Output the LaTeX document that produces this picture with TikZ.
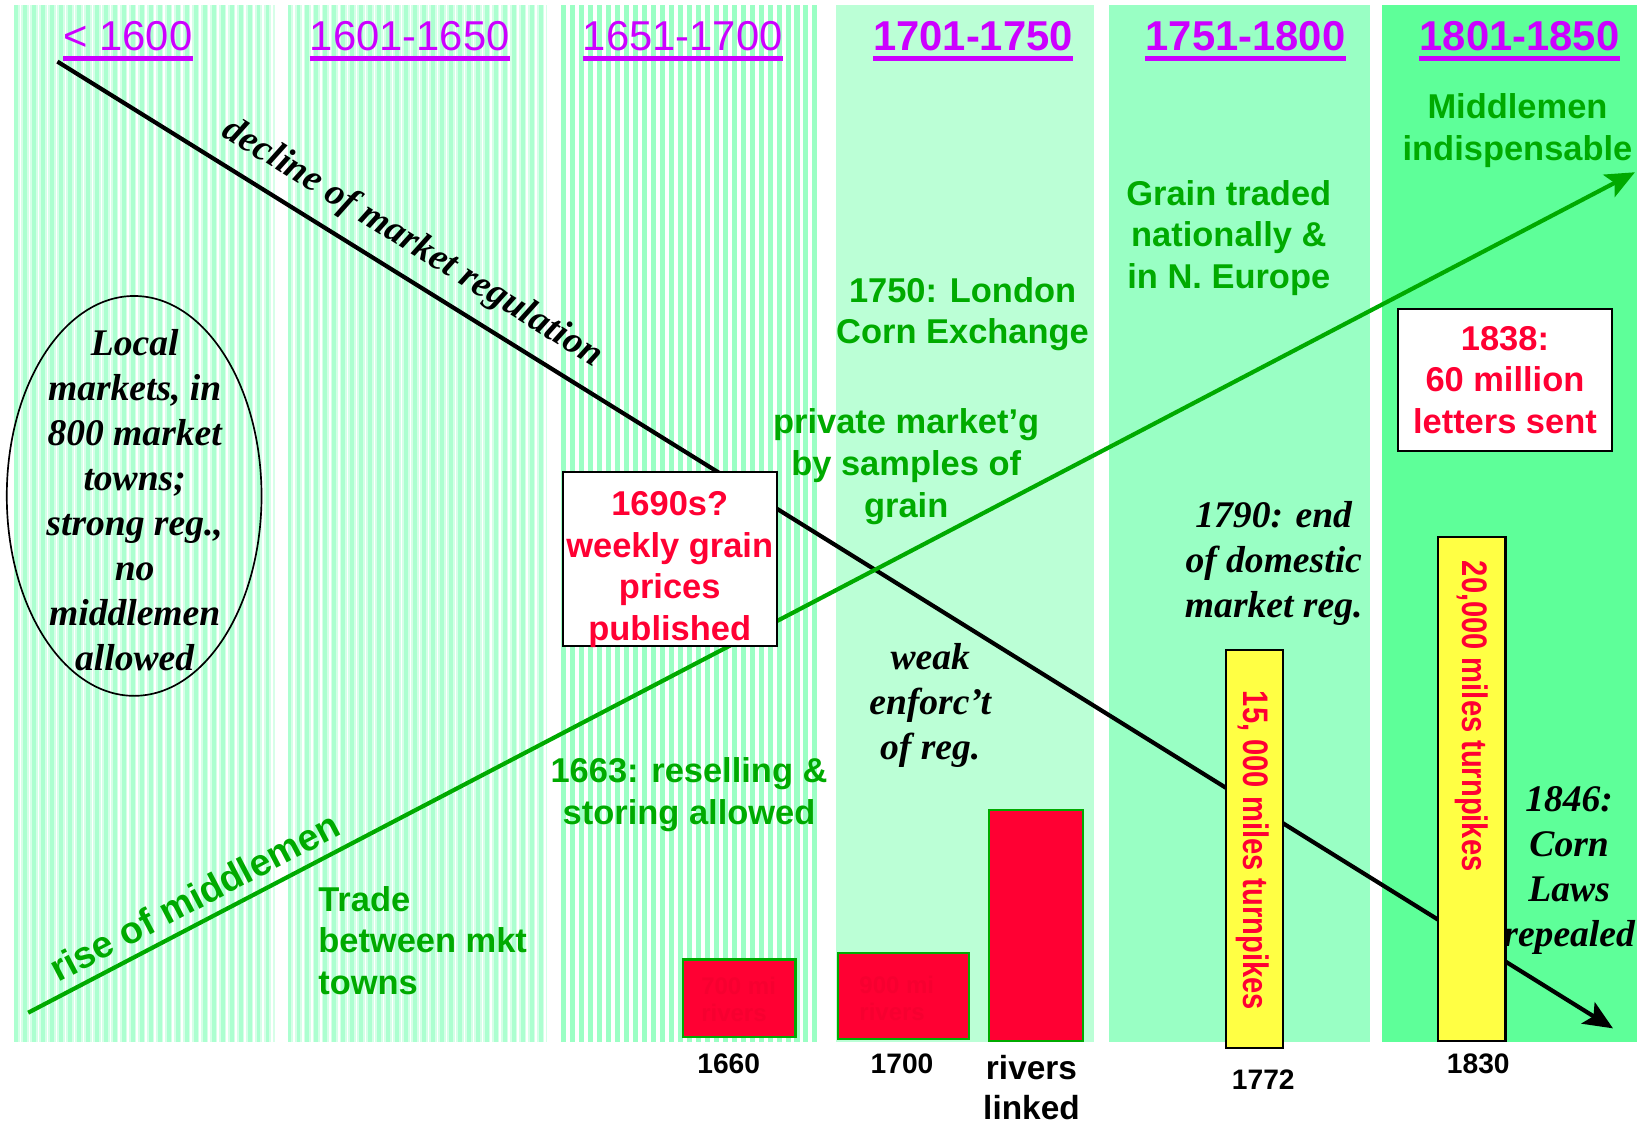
\documentclass[tikz,border=0pt]{standalone}
\usepackage{fontspec}
\setmainfont{Liberation Serif}
\setsansfont{Liberation Sans}
\newfontfamily\narrowsf[FakeStretch=0.82]{Liberation Sans}
\usetikzlibrary{arrows.meta, shapes.geometric}
\definecolor{perMagenta}{RGB}{204,0,255}
\definecolor{midGreen}{RGB}{0,170,0}
\definecolor{alarmRed}{RGB}{255,0,51}
\definecolor{dimRed}{RGB}{246,0,48}
\definecolor{pikeYellow}{RGB}{255,255,68}
\definecolor{paleMint}{RGB}{214,255,232}
\definecolor{stripeMint}{RGB}{172,255,208}
\definecolor{deepStripe}{RGB}{155,255,196}
\definecolor{mintA}{RGB}{187,255,214}
\definecolor{mintB}{RGB}{153,255,196}
\definecolor{mintC}{RGB}{94,255,153}

\begin{document}
\begin{tikzpicture}[x=0.5pt, y=-0.5pt,
    period/.style={font=\sffamily\fontsize{20}{24}\selectfont, text=perMagenta, inner sep=0pt},
    note/.style={font=\sffamily\bfseries\fontsize{16.5}{20}\selectfont, text=midGreen, align=center, inner sep=0pt},
    remark/.style={font=\rmfamily\bfseries\itshape\fontsize{18}{21.5}\selectfont, align=center, inner sep=0pt},
    redbox/.style={draw, line width=1pt, fill=white, inner sep=0pt},
    redtext/.style={font=\sffamily\bfseries\fontsize{16.5}{20}\selectfont, text=alarmRed, align=center, inner sep=0pt},
    riverbar/.style={draw=midGreen, line width=1pt, fill=alarmRed, inner sep=0pt, anchor=south west},
    pikebar/.style={draw, line width=1pt, fill=pikeYellow, inner sep=0pt, anchor=south west},
    pikes/.style={font=\narrowsf\bfseries\fontsize{17}{20}\selectfont, text=alarmRed, rotate=-90, inner sep=0pt},
    faint/.style={font=\sffamily\bfseries\fontsize{11.5}{13}\selectfont, text=dimRed, align=left, inner sep=0pt},
    yearlbl/.style={font=\sffamily\bfseries\fontsize{13.5}{16}\selectfont, inner sep=0pt},
    trend/.style={line width=2pt, -{Stealth[length=14pt, width=12pt, inset=3pt]}}]
  \useasboundingbox (0,0) rectangle (1568,1077);

  % period columns
  \fill[paleMint] (13.7,5) rectangle (263,998);
  \fill[paleMint] (275.4,5) rectangle (524.4,998);
  \foreach \sx in {13.7,22.3,...,259} {
    \fill[stripeMint] (\sx,5) rectangle ++(3.6,993);
    \fill[white] (\sx+5.2,5) rectangle ++(1.6,993);
  }
  \foreach \sx in {275.4,284,...,520} {
    \fill[stripeMint] (\sx,5) rectangle ++(3.6,993);
    \fill[white] (\sx+5.2,5) rectangle ++(1.6,993);
  }
  \foreach \sx in {537.4,546,...,783} \fill[deepStripe] (\sx,5) rectangle ++(4.8,993);
  \fill[mintA] (800.8,5) rectangle (1047.9,998);
  \fill[mintB] (1062.3,5) rectangle (1311.8,998);
  \fill[mintC] (1323.8,5) rectangle (1568,998);

  % period headings
  \foreach \n/\x/\w/\t in {a/122.5/\mdseries/{< 1600}, b/392.5/\mdseries/1601-1650,
      c/654/\mdseries/1651-1700, d/932/\bfseries/1701-1750,
      e/1193/\bfseries/1751-1800, f/1455.5/\bfseries/1801-1850}
  {
    \node[period, anchor=base] (yr\n) at (\x,48) {\w\t};
    \draw[perMagenta, line width=2pt] ([yshift=-4pt]yr\n.base west) -- ([yshift=-4pt]yr\n.base east);
  }

  % the two trends
  \coordinate (declStart) at (55,59);
  \coordinate (declEnd) at (1545,985);
  \coordinate (riseStart) at (27,970);
  \coordinate (riseEnd) at (1566,165);
  \draw[trend] (declStart) -- node[pos=0.217, sloped, above, remark, inner sep=6.5pt] {decline of market regulation} (declEnd);
  \draw[trend, midGreen] (riseStart) -- node[pos=0.111, sloped, above, note, font=\sffamily\bfseries\fontsize{18}{20}\selectfont, inner sep=4.8pt] {rise of middlemen} (riseEnd);

  % < 1600
  \node[draw, ellipse, line width=0.8pt, minimum width=122pt, minimum height=191.5pt, inner sep=0pt] (localOval) at (128.5,475) {};
  \node[remark, font=\rmfamily\bfseries\itshape\fontsize{18}{21.5}\selectfont] (localTxt) at (129,479) {Local\\markets, in\\800 market\\towns;\\strong reg.,\\no\\middlemen\\allowed};

  % 1601-1650
  \node[note, align=left, anchor=west] (trade) at (304.5,901) {Trade\\between mkt\\towns};

  % 1651-1700
  \node[note] (resell) at (660,761) {1663: reselling \&\\storing allowed};
  \node[redbox, minimum width=102.5pt, minimum height=83.5pt] (pricesBox) at (641.5,535.5) {};
  \node[redtext] (pricesTxt) at (641.5,545.5) {1690s?\\weekly grain\\prices\\published};
  \node[riverbar, minimum width=54pt, minimum height=37pt] (bar1660) at (653,994) {};
  \node[faint] (mi700) at (707.5,957) {700 mi\\rivers};
  \node[yearlbl] (y1660) at (698,1018.5) {1660};

  % 1701-1750
  \node[note] (exchange) at (922,301) {1750: London\\Corn Exchange};
  \node[note] (samples) at (868,447) {private market’g\\by samples of\\grain};
  \node[remark] (weak) at (891,676) {weak\\enforc’t\\of reg.};
  \node[riverbar, minimum width=62.5pt, minimum height=41pt] (bar1700) at (802,996) {};
  \node[faint] (mi900) at (859,956) {900 mi\\rivers};
  \node[yearlbl] (y1700) at (864,1018.5) {1700};
  \node[riverbar, minimum width=45pt, minimum height=110.5pt] (barLinked) at (946,998) {};
  \node[yearlbl, font=\sffamily\bfseries\fontsize{16}{19}\selectfont, align=center] (linked) at (988,1042) {rivers\\linked};

  % 1751-1800
  \node[note] (national) at (1177,228) {Grain traded\\nationally \&\\in N. Europe};
  \node[remark] (endReg) at (1220,540) {1790: end\\of domestic\\market reg.};
  \node[pikebar, minimum width=27.5pt, minimum height=190.75pt] (bar1772) at (1173,1005) {};
  \node[pikes] (pikes15) at (1200,814.5) {15, 000 miles turnpikes};
  \node[yearlbl] (y1772) at (1210,1034) {1772};

  % 1801-1850
  \node[note] (indisp) at (1453.5,125) {Middlemen\\indispensable};
  \node[redbox, redtext, minimum width=102.5pt, minimum height=68pt] (letters) at (1441.5,364) {1838:\\60 million\\letters sent};
  \node[pikebar, minimum width=32.5pt, minimum height=241.5pt] (bar1830) at (1376,998) {};
  \node[pikes] (pikes20) at (1410,686) {20,000 miles turnpikes};
  \node[yearlbl] (y1830) at (1416,1019) {1830};
  \node[remark] (cornLaws) at (1503,834) {1846:\\Corn\\Laws\\repealed};
\end{tikzpicture}
\end{document}
